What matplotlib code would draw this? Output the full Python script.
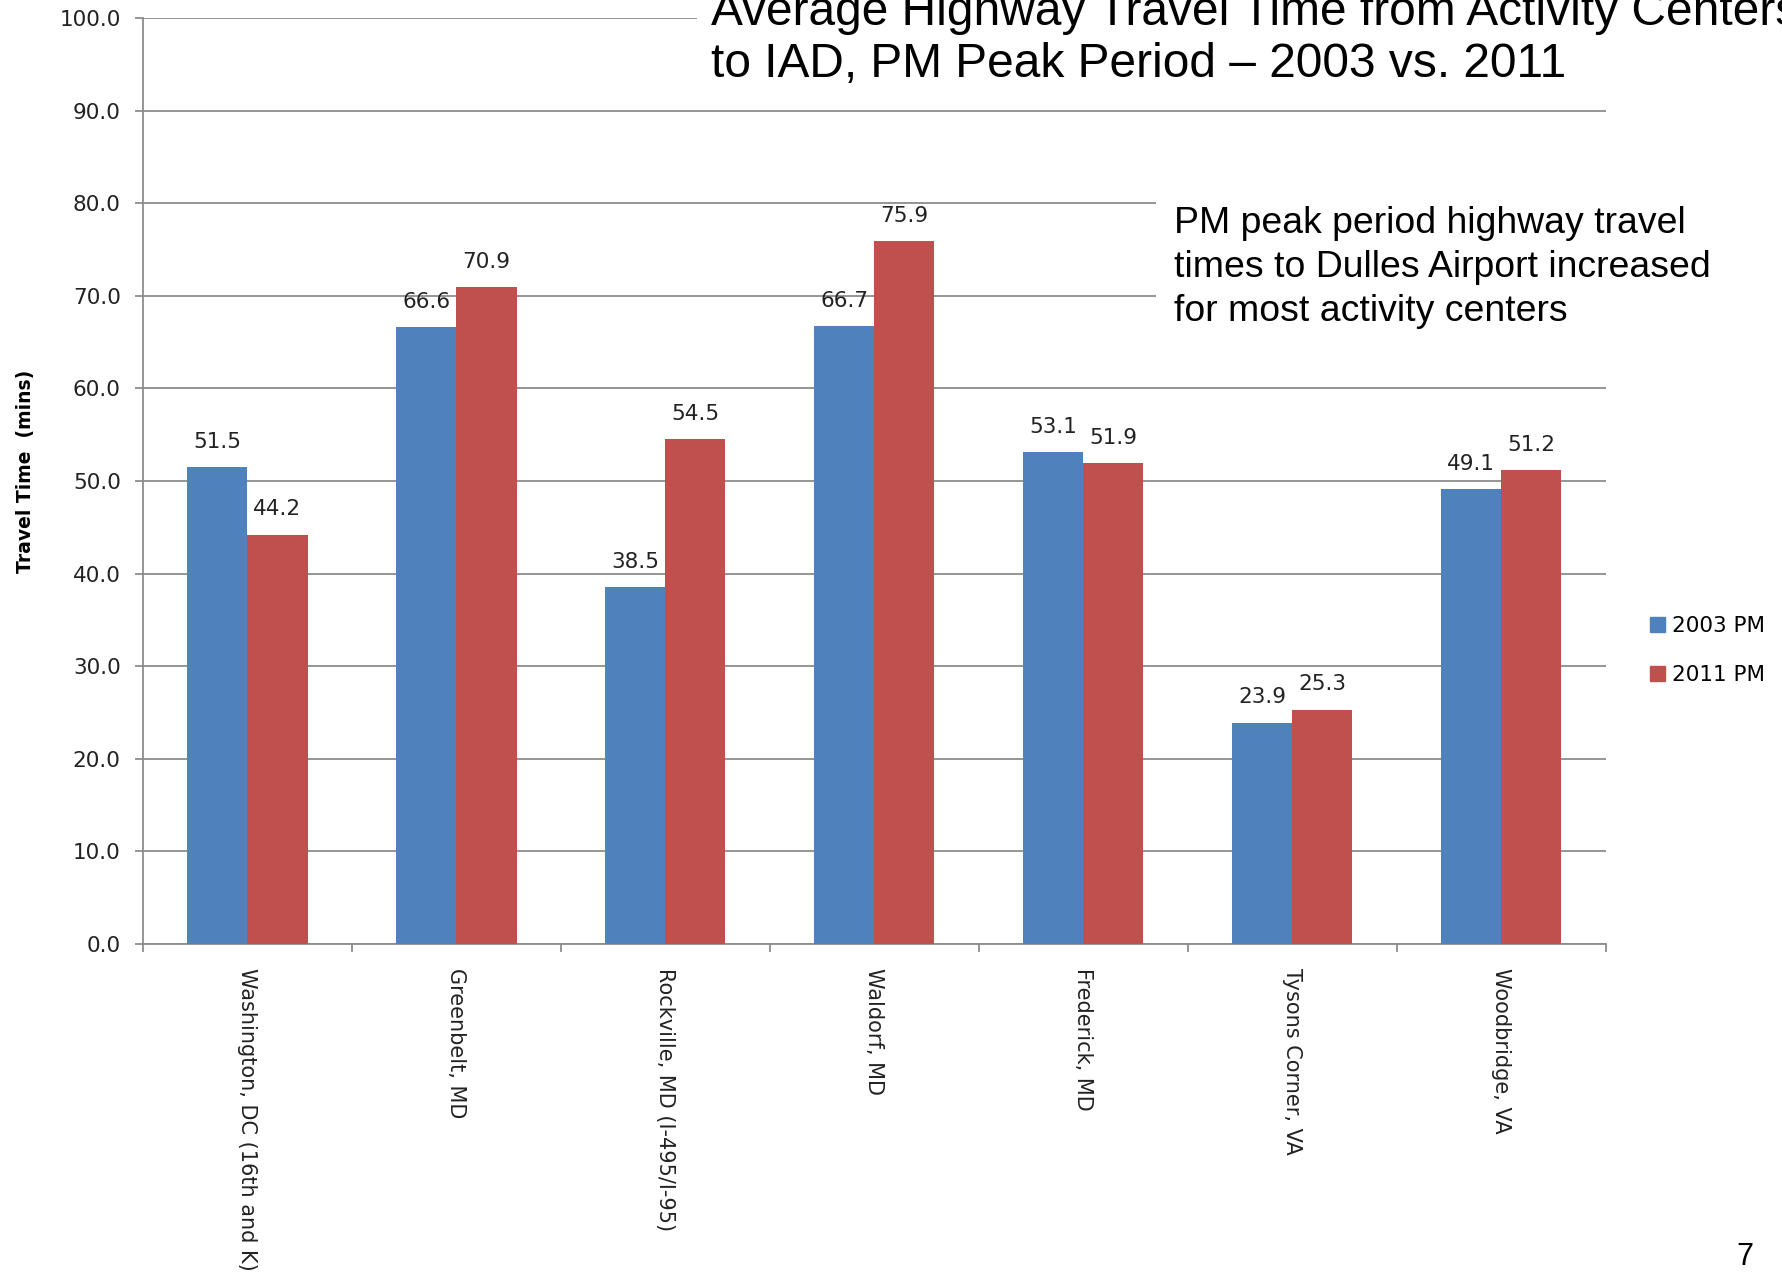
import matplotlib.pyplot as plt
from matplotlib.patches import Patch
import numpy as np

# Activity centers and PM peak travel times to IAD (minutes)
centers = ['Washington, DC (16th and K)', 'Greenbelt, MD', 'Rockville, MD (I-495/I-95)',
           'Waldorf, MD', 'Frederick, MD', 'Tysons Corner, VA', 'Woodbridge, VA']
pm_2003 = [51.5, 66.6, 38.5, 66.7, 53.1, 23.9, 49.1]
pm_2011 = [44.2, 70.9, 54.5, 75.9, 51.9, 25.3, 51.2]
series_names = ['2003 PM', '2011 PM']
y_ticks = [0, 10, 20, 30, 40, 50, 60, 70, 80, 90, 100]

blue = '#4F81BD'
red = '#C0504D'
grid_gray = '#8C8C8C'
label_color = '#222222'

fig = plt.figure(figsize=(17.82, 12.8), dpi=100)
ax = fig.add_axes([0.0802, 0.2625, 0.8208, 0.7235])

x = np.arange(len(centers))
w = 0.288
b1 = ax.bar(x - w / 2, pm_2003, w, color=blue, zorder=3)
b2 = ax.bar(x + w / 2, pm_2011, w, color=red, zorder=3)

for bars in (b1, b2):
    ax.bar_label(bars, fmt='%.1f', padding=11, fontsize=15.5, color=label_color)

ax.set_xlim(-0.5, len(centers) - 0.5)
ax.set_ylim(0, 100)
ax.set_yticks(y_ticks)
ax.set_yticklabels([f'{v:.1f}' for v in y_ticks], fontsize=15.5, color=label_color)
ax.yaxis.grid(True, color=grid_gray, linewidth=1.3, zorder=0)
ax.set_axisbelow(True)

ax.set_xticks(x)
ax.set_xticklabels(centers, rotation=270, fontsize=15, color=label_color,
                   ha='center', va='top')
ax.set_xticks(np.arange(-0.5, len(centers), 1.0), minor=True)
ax.tick_params(axis='x', which='major', length=0, pad=17)
ax.tick_params(axis='x', which='minor', length=6, width=1.3, color=grid_gray)
ax.tick_params(axis='y', length=6, width=1.3, color=grid_gray, pad=10)

for side in ('top', 'right'):
    ax.spines[side].set_visible(False)
for side in ('left', 'bottom'):
    ax.spines[side].set_color(grid_gray)
    ax.spines[side].set_linewidth(1.3)

ax.set_ylabel('Travel Time  (mins)', fontsize=13.5, fontweight='bold')
ax.yaxis.set_label_coords(-0.074, 0.51)

handles = [Patch(color=blue), Patch(color=red)]
fig.legend(handles, series_names, loc='center left', bbox_to_anchor=(0.920, 0.492),
           frameon=False, fontsize=15.5, handlelength=0.7, handleheight=0.7,
           handletextpad=0.3, labelspacing=1.35, borderpad=0)

# slide title and note sit on white boxes over the gridlines
fig.text(0.399, 0.932, 'Average Highway Travel Time from Activity Centers\n'
         'to IAD, PM Peak Period \u2013 2003 vs. 2011',
         fontsize=34.5, family='Liberation Sans', va='bottom', ha='left', linespacing=1.2,
         bbox=dict(boxstyle='square,pad=0.3', facecolor='white', edgecolor='none'))
fig.text(0.659, 0.839, 'PM peak period highway travel\n'
         'times to Dulles Airport increased\nfor most activity centers',
         fontsize=26.9, family='Liberation Sans', va='top', ha='left', linespacing=1.33,
         bbox=dict(boxstyle='square,pad=0.5', facecolor='white', edgecolor='none'))
fig.text(0.979, 0.018, '7', fontsize=22, family='Liberation Sans', ha='center', va='center')

fig.savefig('out.png', dpi=100)
